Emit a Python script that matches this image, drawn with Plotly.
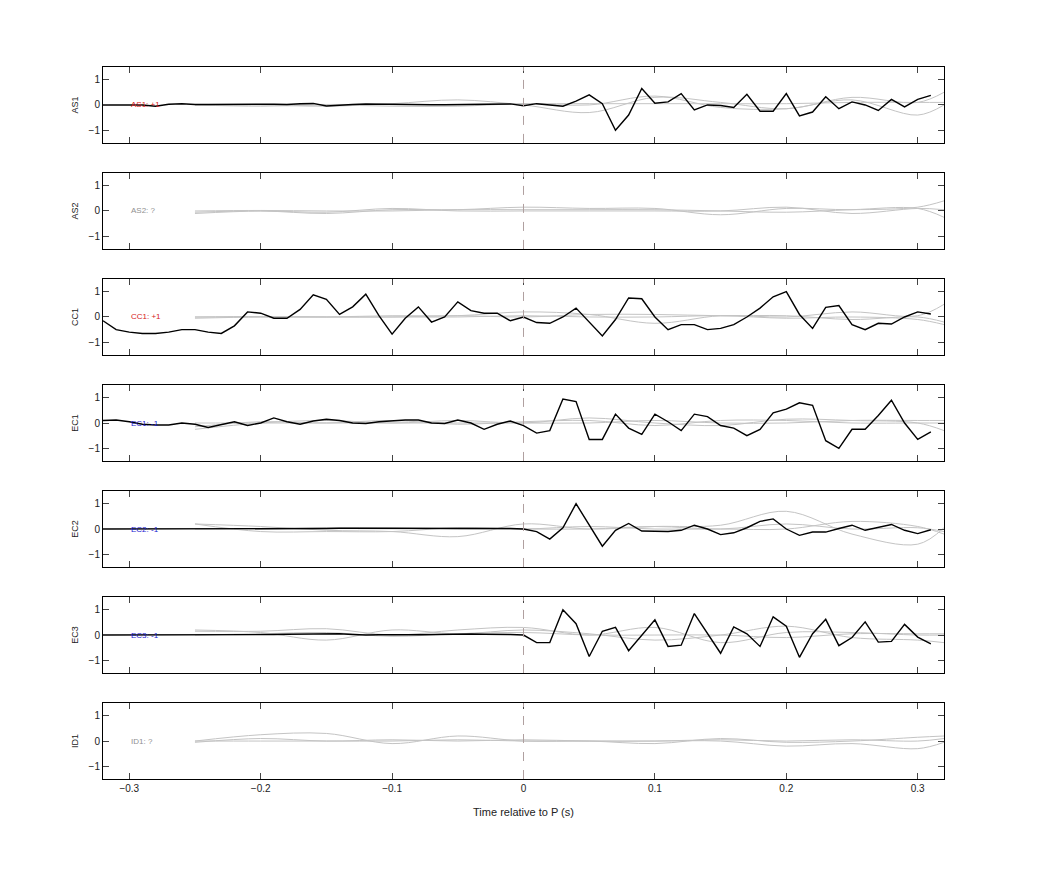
import numpy as np
import plotly.graph_objects as go

# stations, polarity labels and label colours
stations = ["AS1", "AS2", "CC1", "EC1", "EC2", "EC3", "ID1"]
polarity = ["+1", "?", "+1", "-1", "-1", "-1", "?"]
label_colors = ["#d62020", "#909090", "#d62020", "#2020d0", "#2020d0", "#2020d0", "#909090"]

# observed trace times (-0.32 .. 0.31, 10 ms steps)
t_obs = np.round(np.arange(-0.32, 0.315, 0.01), 2)

obs_as1 = [0, 0, 0, 0, -0.05, 0.03, 0.05, 0.02, 0.02, 0.03, 0.03, 0.03, 0.03, 0.03, 0.02, 0.05,
           0.06, -0.04, 0.0, 0.02, 0.04, 0.03, 0.02, 0.02, 0.01, 0.01, 0.01, 0.02, 0.02, 0.03, 0.03, 0.04,
           -0.03, 0.05, 0.0, -0.05, 0.15, 0.4, 0.05, -1.0, -0.4, 0.65, 0.07, 0.12, 0.45, -0.2, 0.0, -0.02,
           -0.1, 0.42, -0.25, -0.25, 0.45, -0.43, -0.28, 0.32, -0.15, 0.12, 0.0, -0.22, 0.22, -0.08, 0.22, 0.38]
obs_cc1 = [-0.15, -0.5, -0.6, -0.65, -0.65, -0.6, -0.5, -0.5, -0.6, -0.65, -0.35, 0.2, 0.15, -0.05, -0.05, 0.3,
           0.88, 0.7, 0.1, 0.4, 0.9, 0.05, -0.68, -0.05, 0.4, -0.2, 0.0, 0.6, 0.25, 0.15, 0.15, -0.15,
           0.0, -0.22, -0.25, 0.0, 0.35, -0.2, -0.75, -0.1, 0.75, 0.72, 0.0, -0.5, -0.3, -0.3, -0.5, -0.45,
           -0.3, 0.0, 0.35, 0.8, 1.0, 0.1, -0.45, 0.38, 0.45, -0.3, -0.5, -0.25, -0.28, 0.0, 0.2, 0.12]
obs_ec1 = [0.1, 0.12, 0.05, -0.05, -0.08, -0.08, 0.0, -0.05, -0.18, -0.05, 0.05, -0.1, 0.0, 0.2, 0.05, -0.05,
           0.08, 0.15, 0.1, 0.0, -0.02, 0.05, 0.08, 0.12, 0.12, 0.0, -0.02, 0.12, 0.0, -0.25, -0.05, 0.08,
           -0.1, -0.4, -0.3, 0.95, 0.85, -0.65, -0.65, 0.35, -0.2, -0.45, 0.35, 0.05, -0.3, 0.35, 0.25, -0.1,
           -0.2, -0.5, -0.25, 0.4, 0.55, 0.8, 0.7, -0.7, -1.0, -0.25, -0.25, 0.3, 0.9, 0.0, -0.65, -0.35]
obs_ec2 = [0.0, 0.0, 0.0, 0.0, 0.0, 0.0, 0.0, 0.01, 0.01, 0.01, 0.01, 0.01, 0.01, 0.02, 0.02, 0.02,
           0.02, 0.02, 0.03, 0.03, 0.03, 0.03, 0.02, 0.02, 0.02, 0.02, 0.03, 0.03, 0.03, 0.02, 0.02, 0.02,
           0.0, -0.1, -0.4, 0.05, 1.0, 0.15, -0.68, -0.05, 0.22, -0.08, -0.1, -0.1, -0.05, 0.15, 0.0, -0.22,
           -0.15, 0.05, 0.3, 0.4, 0.0, -0.25, -0.12, -0.12, 0.02, 0.15, -0.05, 0.05, 0.18, -0.05, -0.18, -0.03]
obs_ec3 = [0.0, 0.0, 0.0, 0.01, 0.01, 0.01, 0.01, 0.01, 0.02, 0.02, 0.02, 0.02, 0.02, 0.02, 0.03, 0.03,
           0.03, 0.04, 0.05, 0.02, 0.0, 0.01, 0.02, 0.01, 0.01, 0.02, 0.03, 0.04, 0.04, 0.03, 0.03, 0.02,
           0.0, -0.3, -0.3, 1.0, 0.45, -0.85, 0.15, 0.3, -0.62, 0.0, 0.6, -0.45, -0.4, 0.85, 0.05, -0.72,
           0.32, 0.05, -0.45, 0.72, 0.35, -0.88, 0.05, 0.62, -0.42, -0.1, 0.52, -0.28, -0.25, 0.42, -0.08, -0.35]
observed = [obs_as1, None, obs_cc1, obs_ec1, obs_ec2, obs_ec3, None]

# synthetic traces, sampled every 50 ms (-0.25 .. 0.30, 0.32)
t_syn = [-0.25, -0.2, -0.15, -0.1, -0.05, 0.0, 0.05, 0.1, 0.15, 0.2, 0.25, 0.3, 0.32]
synthetic = [
    [[0, 0, -0.05, 0.05, 0.2, 0.0, -0.3, 0.3, 0.1, -0.15, 0.3, 0.1, 0.5],
     [0, -0.05, 0.0, -0.05, -0.05, 0.05, 0.0, 0.35, -0.1, -0.15, 0.2, -0.4, 0.0],
     [0, 0.02, 0.02, 0.02, 0.02, 0.05, 0.05, 0.05, 0.05, 0.05, 0.1, 0.1, 0.1]],
    [[-0.05, 0.0, -0.1, 0.05, 0.05, 0.15, 0.1, 0.1, -0.15, 0.1, 0.05, 0.15, 0.4],
     [-0.1, 0.0, -0.05, 0.1, 0.0, 0.0, 0.0, 0.0, 0.0, 0.15, -0.1, 0.1, 0.05],
     [0, 0.02, 0.0, 0.0, 0.05, 0.05, 0.05, 0.05, 0.0, -0.05, 0.05, 0.1, -0.25]],
    [[0, 0, 0.0, 0.05, 0.05, 0.2, 0.1, -0.25, 0.05, 0.0, 0.2, 0.05, 0.5],
     [0, 0.02, 0.0, 0.0, 0.05, 0.0, 0.1, 0.1, 0.05, 0.05, -0.1, 0.0, -0.2],
     [-0.05, 0.0, 0.0, 0.0, 0.0, 0.05, 0.0, 0.0, 0.05, -0.05, 0.0, -0.1, -0.3]],
    [[-0.25, 0.0, 0.1, 0.0, 0.1, 0.0, 0.2, 0.0, -0.1, 0.15, 0.1, 0.0, -0.3],
     [-0.15, 0.05, 0.0, 0.1, -0.05, 0.05, 0.1, -0.1, 0.1, 0.1, 0.0, 0.0, 0.0],
     [0, 0.0, 0.0, 0.0, 0.0, 0.0, 0.0, 0.1, 0.0, 0.0, 0.1, 0.1, 0.1]],
    [[0.2, 0.1, -0.05, -0.1, -0.3, 0.2, 0.0, 0.1, 0.15, 0.7, -0.2, -0.6, 0.05],
     [0.2, -0.1, -0.1, -0.1, 0.05, 0.0, 0.1, 0.0, 0.0, 0.0, 0.3, 0.1, -0.2],
     [0, 0.0, 0.05, 0.05, 0.0, 0.0, 0.0, 0.1, 0.0, 0.2, 0.0, 0.05, -0.1]],
    [[0.2, 0.1, -0.2, 0.2, 0.05, 0.2, 0.05, -0.2, 0.0, 0.35, -0.1, -0.2, -0.3],
     [0.15, 0.15, 0.25, 0.0, 0.2, 0.3, 0.0, 0.3, -0.3, 0.1, 0.1, 0.0, 0.0],
     [0, 0.05, 0.1, -0.05, 0.05, 0.1, 0.0, 0.0, 0.0, -0.1, 0.05, 0.05, 0.05]],
    [[0.0, 0.25, 0.3, -0.1, 0.2, 0.0, 0.0, -0.1, 0.1, -0.05, 0.0, 0.15, 0.2],
     [-0.05, 0.1, 0.0, 0.05, 0.0, 0.05, 0.0, 0.0, 0.0, -0.2, -0.1, -0.3, -0.05],
     [0, 0.0, 0.0, 0.0, 0.05, 0.0, 0.0, 0.0, 0.05, 0.0, 0.05, 0.0, 0.1]],
]

n = len(stations)
plot_top, plot_bot = 1.0, 0.0
panel_h = 76 / 713
gap = ((plot_top - plot_bot) - n * panel_h) / (n - 1)

fig = go.Figure()
layout = dict(
    width=1042, height=875, autosize=False, plot_bgcolor="white", paper_bgcolor="white",
    margin=dict(l=95, r=106, t=59, b=104, autoexpand=False), showlegend=False,
    font=dict(family="Liberation Sans, Arial", size=10, color="#222"),
)
shapes = []
annotations = []

for i, st in enumerate(stations):
    ax = "" if i == 0 else str(i + 1)
    top = plot_top - i * (panel_h + gap)
    xref, yref = "x" + ax, "y" + ax
    for syn in synthetic[i]:
        fig.add_trace(go.Scatter(x=t_syn, y=syn, mode="lines", xaxis=xref, yaxis=yref,
                                 line=dict(color="#c4c4c4", width=1, shape="spline", smoothing=1.0)))
    if observed[i] is not None:
        fig.add_trace(go.Scatter(x=t_obs, y=observed[i], mode="lines", xaxis=xref, yaxis=yref,
                                 line=dict(color="black", width=1.4)))
    layout["xaxis" + ax] = dict(
        domain=[0, 1], anchor=yref, range=[-0.32, 0.32], tickvals=[-0.3, -0.2, -0.1, 0, 0.1, 0.2, 0.3],
        ticks="inside", ticklen=6, mirror="ticks", showline=True, linecolor="black", linewidth=1,
        showgrid=False, zeroline=False, showticklabels=(i == n - 1), tickfont=dict(size=10),
        automargin=False,
    )
    layout["yaxis" + ax] = dict(
        domain=[max(top - panel_h, 0), top], anchor=xref, range=[-1.5, 1.5], tickvals=[-1, 0, 1],
        ticks="inside", ticklen=6, mirror="ticks", showline=True, linecolor="black", linewidth=1,
        showgrid=False, zeroline=False, tickfont=dict(size=10), automargin=False,
        title=dict(text=st, font=dict(size=9), standoff=8),
    )
    shapes.append(dict(type="line", xref=xref, yref=yref + " domain", x0=0, x1=0, y0=0, y1=1,
                       line=dict(color="#b0a0a0", width=1, dash="dash")))
    annotations.append(dict(x=-0.3, y=0, xref=xref, yref=yref, text=f"{st}: {polarity[i]}",
                            showarrow=False, xanchor="left", font=dict(size=8, color=label_colors[i])))

layout["xaxis" + str(n)]["title"] = dict(text="Time relative to P (s)", font=dict(size=11))
layout["shapes"] = shapes
layout["annotations"] = annotations
fig.update_layout(**layout)

fig.write_html("out.html")
